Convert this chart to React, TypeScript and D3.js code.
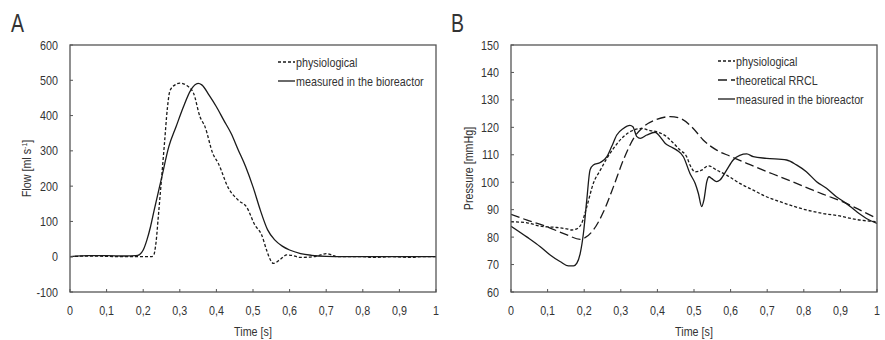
import React from "react";
import * as d3 from "d3";

// ---- Data ----
const xTicks = [0, 0.1, 0.2, 0.3, 0.4, 0.5, 0.6, 0.7, 0.8, 0.9, 1];
const flowTicks = [-100, 0, 100, 200, 300, 400, 500, 600];
const pressureTicks = [60, 70, 80, 90, 100, 110, 120, 130, 140, 150];

const flowPhysiological: [number, number][] = [
  [0, 0], [0.05, 2], [0.1, 1], [0.15, 0], [0.2, 0], [0.222, 0], [0.228, 3], [0.235, 40],
  [0.241, 110], [0.25, 220], [0.258, 320], [0.266, 420], [0.273, 470], [0.287, 487],
  [0.3, 492], [0.319, 485], [0.337, 465], [0.355, 397], [0.369, 368], [0.39, 293],
  [0.405, 265], [0.433, 194], [0.46, 160], [0.483, 140], [0.505, 90], [0.524, 61],
  [0.537, 19], [0.548, -10], [0.556, -19], [0.574, -8], [0.592, 5], [0.61, 3],
  [0.628, -2], [0.665, 0], [0.685, 5], [0.7, 9], [0.715, 5], [0.73, 0], [0.8, 0],
  [0.83, -2], [0.88, 0], [0.93, -2], [0.96, 0], [1, 0],
];

const flowMeasured: [number, number][] = [
  [0, 0], [0.05, 3], [0.1, 3], [0.15, 2], [0.18, 3], [0.19, 6], [0.2, 19], [0.21, 47],
  [0.22, 85], [0.23, 132], [0.25, 222], [0.27, 312], [0.29, 369], [0.31, 425],
  [0.33, 472], [0.35, 491], [0.36, 487], [0.38, 458], [0.4, 425], [0.42, 387],
  [0.44, 350], [0.46, 302], [0.48, 255], [0.5, 198], [0.52, 132], [0.54, 76],
  [0.56, 47], [0.58, 30], [0.6, 19], [0.63, 9], [0.66, 4], [0.7, 1], [0.75, 0], [1, 0],
];

const pressureMeasured: [number, number][] = [
  [0, 84], [0.044, 80], [0.080, 76.5], [0.107, 73.5], [0.135, 71], [0.157, 69.5],
  [0.171, 69.5], [0.180, 70.5], [0.189, 74], [0.198, 81.5], [0.207, 93.5], [0.216, 104.5],
  [0.225, 106.3], [0.244, 107.2], [0.262, 109.3], [0.275, 113], [0.289, 117.2],
  [0.307, 119.6], [0.325, 120.7], [0.333, 120.2], [0.344, 116.6], [0.353, 116],
  [0.371, 117.2], [0.394, 118.2], [0.407, 116.6], [0.421, 114.2], [0.435, 113],
  [0.453, 111.7], [0.471, 109.3], [0.489, 103.2], [0.503, 99.6], [0.512, 95.9],
  [0.521, 91.1], [0.527, 93.5], [0.535, 100.2], [0.541, 102], [0.548, 101.4],
  [0.562, 100.2], [0.571, 100.8], [0.589, 104.4], [0.607, 108.1], [0.625, 109.8],
  [0.644, 110.3], [0.662, 109.3], [0.698, 108.7], [0.753, 108.1], [0.78, 106.3],
  [0.807, 103.8], [0.835, 100.2], [0.862, 97.8], [0.889, 94.7], [0.916, 92.3],
  [0.944, 89.3], [0.971, 86.8], [1, 85],
];

const pressurePhysiological: [number, number][] = [
  [0, 85.6], [0.044, 85.2], [0.080, 84], [0.125, 83.5], [0.153, 83], [0.166, 82.6],
  [0.18, 83], [0.193, 85], [0.207, 91], [0.225, 99.6], [0.244, 104.4], [0.262, 108.7],
  [0.28, 112.3], [0.307, 116.6], [0.335, 119], [0.357, 119.6], [0.38, 118.8],
  [0.398, 118.4], [0.425, 116.6], [0.444, 114.2], [0.462, 111.7], [0.48, 109.3],
  [0.489, 106.3], [0.503, 103.8], [0.521, 104.4], [0.539, 106], [0.562, 104.4],
  [0.589, 102.6], [0.625, 99.6], [0.662, 97.1], [0.698, 94.7], [0.735, 92.9],
  [0.771, 91.3], [0.807, 89.9], [0.853, 88.6], [0.898, 87.7], [0.944, 86.4], [1, 85.6],
];

const pressureTheoretical: [number, number][] = [
  [0, 88.3], [0.044, 86.2], [0.098, 83.8], [0.153, 80.8], [0.189, 79.2], [0.2, 79.6],
  [0.225, 82.6], [0.253, 89.3], [0.28, 98.4], [0.307, 108.1], [0.335, 116],
  [0.362, 120.2], [0.398, 122.9], [0.435, 123.9], [0.462, 123.3], [0.498, 119.6],
  [0.525, 115.4], [0.562, 111.7], [0.598, 109.5], [0.644, 106.9], [0.689, 104.4],
  [0.735, 102], [0.78, 99.6], [0.825, 97.1], [0.871, 94.7], [0.916, 92.3],
  [0.962, 89.3], [1, 86.8],
];

const legendA = [
  { label: "physiological", dash: "3,2" },
  { label: "measured in the bioreactor", dash: "none" },
];
const legendB = [
  { label: "physiological", dash: "3,2" },
  { label: "theoretical RRCL", dash: "9,4" },
  { label: "measured in the bioreactor", dash: "none" },
];

const FONT = "'Liberation Sans', Arial, sans-serif";
const AXIS = "#555";
const SX = 0.86;

function Txt(props: { x: number; y: number; anchor?: string; size?: number; rotate?: number; sx?: number; children: React.ReactNode }) {
  const { x, y, anchor = "start", size = 12.5, rotate = 0, sx = SX } = props;
  return (
    <g transform={`translate(${x},${y}) rotate(${rotate}) scale(${sx},1)`}>
      <text x={0} y={0} textAnchor={anchor} fontSize={size} fill="#333" fontFamily={FONT}>{props.children}</text>
    </g>
  );
}

type Series = { data: [number, number][]; dash: string; width?: number };

function Panel(props: {
  x0: number; x1: number; y0: number; y1: number;
  domain: [number, number]; yTicks: number[];
  series: Series[]; letter: string; letterX: number;
  yTitle: React.ReactNode; yTitleX: number;
  legend: { label: string; dash: string }[]; legendX: number; legendY: number; legendStep: number;
}) {
  const { x0, x1, y0, y1, domain, yTicks, series } = props;
  const x = d3.scaleLinear().domain([0, 1]).range([x0, x1]);
  const y = d3.scaleLinear().domain(domain).range([y1, y0]);
  const line = d3.line<[number, number]>().x(d => x(d[0])).y(d => y(d[1])).curve(d3.curveMonotoneX);
  return (
    <g>
      <Txt x={props.letterX} y={32} size={25} sx={0.78}>{props.letter}</Txt>
      <defs>
        <clipPath id={"clip" + props.letter}>
          <rect x={x0} y={y0} width={x1 - x0} height={y1 - y0} />
        </clipPath>
      </defs>
      <g clipPath={`url(#clip${props.letter})`}>
        {series.map((s, i) => (
          <path key={i} d={line(s.data) || ""} fill="none" stroke="#1a1a1a" strokeWidth={s.width ?? 1.3}
            strokeDasharray={s.dash === "none" ? undefined : s.dash} />
        ))}
      </g>
      <rect x={x0} y={y0} width={x1 - x0} height={y1 - y0} fill="none" stroke={AXIS} strokeWidth={1.3} />
      {xTicks.map(t => (
        <g key={t}>
          <line x1={x(t)} x2={x(t)} y1={y1} y2={y1 - 3} stroke={AXIS} strokeWidth={1} />
          <Txt x={x(t)} y={y1 + 23} anchor="middle">{String(t).replace(".", ",")}</Txt>
        </g>
      ))}
      {yTicks.map(t => (
        <g key={t}>
          <line x1={x0} x2={x0 + 3} y1={y(t)} y2={y(t)} stroke={AXIS} strokeWidth={1} />
          <Txt x={x0 - 12} y={y(t) + 4.5} anchor="end">{t}</Txt>
        </g>
      ))}
      <Txt x={(x0 + x1) / 2} y={336} anchor="middle">Time [s]</Txt>
      <Txt x={props.yTitleX} y={(y0 + y1) / 2} anchor="middle" rotate={-90}>{props.yTitle}</Txt>
      {props.legend.map((l, i) => {
        const ly = props.legendY + i * props.legendStep;
        return (
          <g key={i}>
            <line x1={props.legendX} x2={props.legendX + 17} y1={ly} y2={ly} stroke="#1a1a1a" strokeWidth={1.3}
              strokeDasharray={l.dash === "none" ? undefined : l.dash} />
            <Txt x={props.legendX + 18} y={ly + 4.5}>{l.label}</Txt>
          </g>
        );
      })}
    </g>
  );
}

export default function App() {
  return (
    <svg width={885} height={340} style={{ display: "block", position: "absolute", left: 0, top: 0, background: "#fff" }}>
      <rect width={885} height={340} fill="#fff" />
      <Panel x0={70} x1={436} y0={45} y1={292} domain={[-100, 600]} yTicks={flowTicks}
        series={[{ data: flowPhysiological, dash: "3,2" }, { data: flowMeasured, dash: "none" }]}
        letter="A" letterX={11}
        yTitle={<>Flow [ml s<tspan dy={-4} fontSize={8}>-1</tspan><tspan dy={4}>]</tspan></>} yTitleX={31}
        legend={legendA} legendX={278} legendY={62} legendStep={19} />
      <Panel x0={511} x1={877} y0={45} y1={292} domain={[60, 150]} yTicks={pressureTicks}
        series={[
          { data: pressurePhysiological, dash: "3,2" },
          { data: pressureTheoretical, dash: "9,4" },
          { data: pressureMeasured, dash: "none" },
        ]}
        letter="B" letterX={451}
        yTitle="Pressure [mmHg]" yTitleX={473}
        legend={legendB} legendX={718} legendY={61} legendStep={19} />
    </svg>
  );
}
